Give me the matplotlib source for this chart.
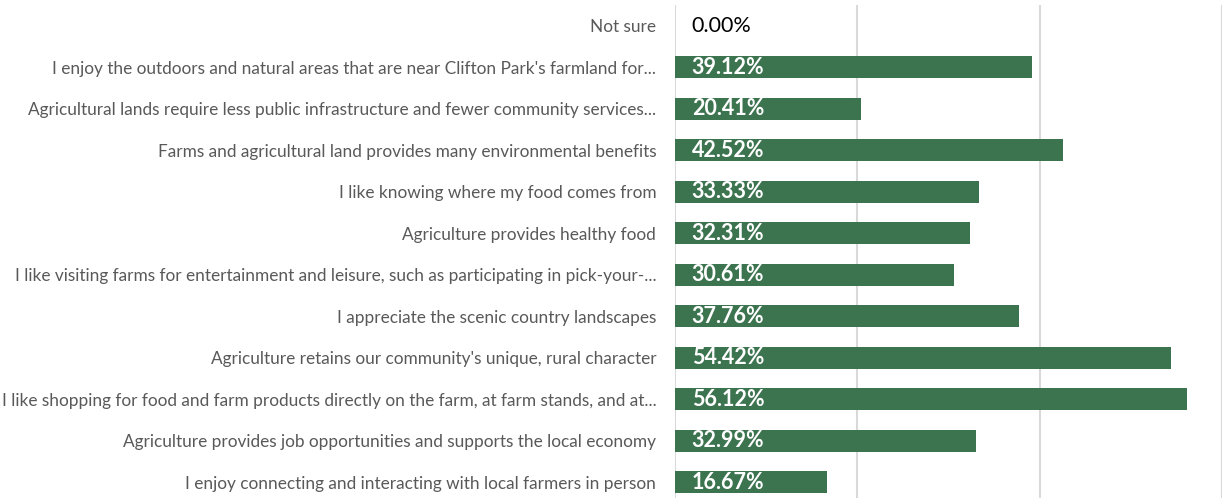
import matplotlib.pyplot as plt
import numpy as np

plt.rcParams['font.family'] = ['Lato', 'DejaVu Sans']

labels = [
    "Not sure",
    "I enjoy the outdoors and natural areas that are near Clifton Park's farmland for...",
    "Agricultural lands require less public infrastructure and fewer community services...",
    "Farms and agricultural land provides many environmental benefits",
    "I like knowing where my food comes from",
    "Agriculture provides healthy food",
    "I like visiting farms for entertainment and leisure, such as participating in pick-your-...",
    "I appreciate the scenic country landscapes",
    "Agriculture retains our community's unique, rural character",
    "I like shopping for food and farm products directly on the farm, at farm stands, and at...",
    "Agriculture provides job opportunities and supports the local economy",
    "I enjoy connecting and interacting with local farmers in person",
]
values = [0.00, 39.12, 20.41, 42.52, 33.33, 32.31, 30.61, 37.76, 54.42, 56.12, 32.99, 16.67]

bar_color = '#3d7450'

fig = plt.figure(figsize=(12.26, 4.98), dpi=100)
ax = fig.add_axes([675 / 1226, -5 / 498, (1222 - 675) / 1226, 1.0])

y = np.arange(len(labels))
ax.barh(y, values, height=0.53, color=bar_color, zorder=3)
ax.set_ylim(len(labels) - 0.5, -0.5)
ax.set_xlim(0, 60)

ax.set_xticks([0, 20, 40, 60])
ax.xaxis.grid(True, color='#d9d9d9', linewidth=1.5, zorder=0)
ax.tick_params(axis='x', bottom=False, labelbottom=False)
ax.tick_params(axis='y', left=False, pad=10)
ax.set_yticks(y)
ax.set_yticklabels(labels, fontsize=12.4, color='#595959')
for s in ax.spines.values():
    s.set_visible(False)

for yi, v in zip(y, values):
    style = dict(color='white', fontweight='bold') if v > 0 else dict(color='black')
    ax.annotate(f'{v:.2f}%', xy=(0, yi), xytext=(12, 0), textcoords='offset points',
                fontsize=15.5, va='center', ha='left', zorder=4, **style)

fig.savefig('out.png', dpi=100)
